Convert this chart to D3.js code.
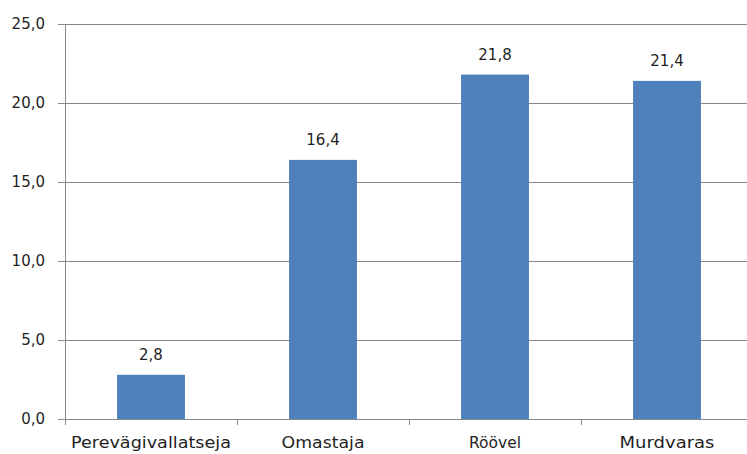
<!DOCTYPE html>
<html>
<head>
<meta charset="utf-8">
<script src="https://cdn.jsdelivr.net/npm/d3@7"></script>
<style>
  html, body { margin: 0; padding: 0; background: #fff; }
  svg { display: block; }
  text { font-family: "DejaVu Sans", Verdana, sans-serif; fill: #1f1f1f; }
</style>
</head>
<body>
<svg id="chart" width="747" height="454"></svg>
<script>
const categories = ["Perevägivallatseja", "Omastaja", "Röövel", "Murdvaras"];
const values = [2.8, 16.4, 21.8, 21.4];
const yTicks = [0, 5, 10, 15, 20, 25];
const labelWidths = [160, 83, 52, 95];

const svg = d3.select("#chart");
const mLeft = 65, mRight = 753, mTop = 24, mBottom = 419;

const x = d3.scaleBand().domain(categories).range([mLeft, mRight]).padding(0);
const y = d3.scaleLinear().domain([0, 25]).range([mBottom, mTop]);
const fmt = v => d3.format(".1f")(v).replace(".", ",");

// gridlines
svg.append("g").selectAll("line").data(yTicks).join("line")
  .attr("x1", mLeft - 7).attr("x2", 747)
  .attr("y1", d => y(d) + 0.5).attr("y2", d => y(d) + 0.5)
  .attr("stroke", "#888888").attr("stroke-width", 1);

// y axis line
svg.append("line")
  .attr("x1", mLeft + 0.5).attr("x2", mLeft + 0.5)
  .attr("y1", mTop).attr("y2", mBottom + 6)
  .attr("stroke", "#888888");

// category ticks
svg.append("g").selectAll("line").data(categories.slice(1)).join("line")
  .attr("x1", d => Math.round(x(d)) + 0.5).attr("x2", d => Math.round(x(d)) + 0.5)
  .attr("y1", mBottom).attr("y2", mBottom + 6)
  .attr("stroke", "#888888");

// y labels
svg.append("g").selectAll("text").data(yTicks).join("text")
  .attr("x", 45).attr("y", d => y(d) + 5)
  .attr("text-anchor", "end")
  .attr("font-size", 15)
  .text(d => fmt(d));

// bars
const bw = x.bandwidth() * 0.395;
svg.append("g").selectAll("rect").data(values).join("rect")
  .attr("x", (d, i) => x(categories[i]) + x.bandwidth() / 2 - bw / 2)
  .attr("y", d => y(d))
  .attr("width", bw)
  .attr("height", d => y(0) - y(d))
  .attr("fill", "#4f81bd");

// value labels
svg.append("g").selectAll("text").data(values).join("text")
  .attr("x", (d, i) => x(categories[i]) + x.bandwidth() / 2)
  .attr("y", d => y(d) - 15)
  .attr("text-anchor", "middle")
  .attr("font-size", 15)
  .text(d => fmt(d));

// category labels
svg.append("g").selectAll("text").data(categories).join("text")
  .attr("x", d => x(d) + x.bandwidth() / 2)
  .attr("y", 448)
  .attr("text-anchor", "middle")
  .attr("font-size", 15)
  .attr("textLength", (d, i) => labelWidths[i])
  .attr("lengthAdjust", "spacingAndGlyphs")
  .text(d => d);
</script>
</body>
</html>
